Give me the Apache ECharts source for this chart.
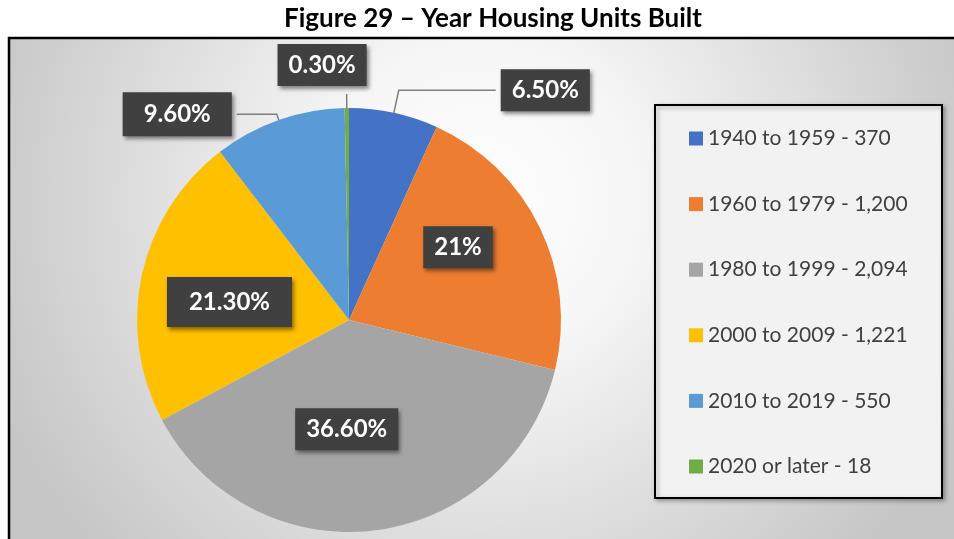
<!DOCTYPE html>
<html>
<head>
<meta charset="utf-8">
<script src="https://cdn.jsdelivr.net/npm/echarts@6/dist/echarts.min.js"></script>
<style>
  html, body { margin: 0; padding: 0; background: #fff; }
  #chart { width: 954px; height: 539px; }
</style>
</head>
<body>
<div id="chart"></div>
<script>
// data
var periods = ['1940 to 1959', '1960 to 1979', '1980 to 1999', '2000 to 2009', '2010 to 2019', '2020 or later'];
var units = [370, 1200, 2094, 1221, 550, 18];
var shareLabels = ['6.50%', '21%', '36.60%', '21.30%', '9.60%', '0.30%'];

var colors = ['#4472C4', '#ED7D31', '#A5A5A5', '#FFC000', '#5B9BD5', '#70AD47'];

// label placement per slice (inside / outside with leader line)
var labelPos = ['outside', 'inside', 'inside', 'inside', 'outside', 'outside'];
var lineLen = [[23, 97], null, null, null, [6, 40], [14, 0]];
var boxPad = [[9, 11], [9, 11], [9, 11], [13, 22], [10, 21], [9, 11]];
var labelNudge = [null, [11, -25], [-16, 1], [-13, 5], null, [25, -29]];

var legendNames = periods.map(function (p, i) {
  return p + ' - ' + units[i].toLocaleString('en-US');
});

var pieData = units.map(function (v, i) {
  var item = {
    name: legendNames[i],
    value: v,
    itemStyle: { color: colors[i] },
    label: { position: labelPos[i], formatter: shareLabels[i], padding: boxPad[i] }
  };
  if (lineLen[i]) {
    item.labelLine = { show: true, length: lineLen[i][0], length2: lineLen[i][1] };
  }
  return item;
});

var myChart = echarts.init(document.getElementById('chart'), null, { renderer: 'canvas' });

var option = {
  animation: false,
  title: {
    text: 'Figure 29 \u2013 Year Housing Units Built',
    left: 488,
    top: 1,
    textAlign: 'center',
    textStyle: { fontFamily: 'Lato', fontWeight: 'bold', fontSize: 26, color: '#000' }
  },
  graphic: [
    {
      type: 'rect',
      z: -10,
      shape: { x: 9, y: 38, width: 1000, height: 600 },
      style: {
        fill: {
          type: 'radial', x: 480, y: 200, r: 520, global: true,
          colorStops: [
            { offset: 0, color: '#ffffff' },
            { offset: 0.3, color: '#f6f6f6' },
            { offset: 1, color: '#c6c6c6' }
          ]
        },
        stroke: '#000',
        lineWidth: 2.5
      }
    },
    {
      type: 'rect',
      z: -9,
      shape: { x: 655, y: 105, width: 287, height: 393 },
      style: {
        fill: '#f2f2f2',
        stroke: '#000',
        lineWidth: 2,
        shadowBlur: 4,
        shadowOffsetX: 2,
        shadowOffsetY: 2,
        shadowColor: 'rgba(0,0,0,0.3)'
      }
    }
  ],
  legend: {
    orient: 'vertical',
    left: 684,
    top: 123,
    icon: 'rect',
    itemWidth: 14,
    itemHeight: 14,
    itemGap: 44.6,
    data: legendNames,
    textStyle: { fontFamily: 'Lato', fontSize: 21, lineHeight: 21, color: '#404040' }
  },
  series: [
    {
      type: 'pie',
      center: [349, 320],
      radius: 212,
      startAngle: 90,
      clockwise: true,
      avoidLabelOverlap: false,
      emphasis: { disabled: true },
      itemStyle: { borderWidth: 0 },
      label: {
        show: true,
        color: '#fff',
        fontFamily: 'Lato',
        fontWeight: 'bold',
        fontSize: 24,
        lineHeight: 24,
        backgroundColor: '#404040',
        distanceToLabelLine: 5,
        shadowBlur: 4,
        shadowOffsetX: 2,
        shadowOffsetY: 3,
        shadowColor: 'rgba(0,0,0,0.45)'
      },
      labelLine: {
        lineStyle: { color: '#7f7f7f', width: 1.5 }
      },
      labelLayout: function (p) {
        var n = labelNudge[p.dataIndex];
        if (n) return { dx: n[0], dy: n[1] };
      },
      data: pieData
    }
  ]
};

myChart.setOption(option);
</script>
</body>
</html>
